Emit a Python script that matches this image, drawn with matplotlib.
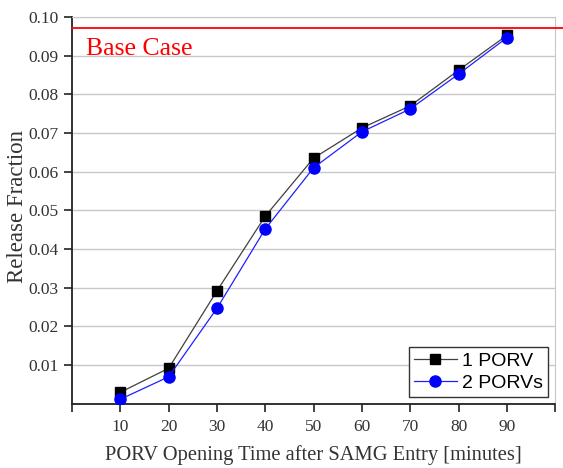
import matplotlib.pyplot as plt
from matplotlib.ticker import FixedLocator

# PORV opening time [minutes]
tiempo = [10, 20, 30, 40, 50, 60, 70, 80, 90]
# release fractions
una_porv = [0.0030, 0.0092, 0.0292, 0.0485, 0.0635, 0.0713, 0.0770, 0.0862, 0.0952]
dos_porv = [0.0012, 0.0070, 0.0247, 0.0452, 0.0610, 0.0703, 0.0762, 0.0852, 0.0946]
caso_base = 0.0972
yticks = [0.01, 0.02, 0.03, 0.04, 0.05, 0.06, 0.07, 0.08, 0.09, 0.10]

serif = ['Liberation Serif', 'DejaVu Serif']

fig = plt.figure(figsize=(5.63, 4.68), dpi=100)
ax = fig.add_axes([0.128, 0.137, 0.858, 0.827])

ax.plot(tiempo, una_porv, color='#404040', lw=0.9, marker='s', ms=7,
        mfc='black', mec='black', label='1 PORV', zorder=3)
ax.plot(tiempo, dos_porv, color='#2020ff', lw=0.9, marker='o', ms=8,
        mfc='#0000ff', mec='#0000ff', label='2 PORVs', zorder=4)

# base case line, runs a bit past the frame
ax.plot([0, 1.017], [caso_base, caso_base], transform=ax.get_yaxis_transform(),
        color='red', lw=1.3, clip_on=False, zorder=5)
ax.text(2.9, 0.0916, 'Base Case', color='red', fontsize=18.5, family=serif, va='center')

ax.set_xlim(0, 100)
ax.set_ylim(0, 0.10)
ax.xaxis.set_major_locator(FixedLocator(range(0, 101, 10)))
ax.set_xticklabels([''] + [str(t) for t in tiempo] + [''])
ax.set_yticks(yticks)
ax.set_yticklabels(['%.2f' % v for v in yticks])
ax.yaxis.grid(True, color='#c8c8c8', lw=1)
ax.set_axisbelow(True)

for lab in ax.get_xticklabels() + ax.get_yticklabels():
    lab.set_family(serif)
    lab.set_fontsize(12.5)
ax.tick_params(direction='out', length=6, width=1.2, colors='#222222', labelcolor='#333333')
ax.tick_params(axis='x', pad=5)
ax.tick_params(axis='y', pad=4)

ax.spines['left'].set_linewidth(1.3)
ax.spines['bottom'].set_linewidth(1.3)
ax.spines['left'].set_color('#222222')
ax.spines['bottom'].set_color('#222222')
ax.spines['top'].set_color('#c8c8c8')
ax.spines['right'].set_color('#c8c8c8')

ax.set_xlabel('PORV Opening Time after SAMG Entry [minutes]', family=serif,
              fontsize=14.8, color='#333333', labelpad=7)
ax.set_ylabel('Release Fraction', family=serif, fontsize=16.5, color='#333333')
ax.yaxis.set_label_coords(-0.092, 0.51)

leg = ax.legend(loc='lower right', prop={'family': ['Liberation Sans', 'DejaVu Sans'], 'size': 14},
                fancybox=False, edgecolor='#333333', framealpha=1, borderaxespad=0.35,
                handlelength=2.2, borderpad=0.25, labelspacing=0.25, handletextpad=0.3)
leg.get_frame().set_linewidth(1.0)

fig.savefig('out.png', dpi=100)
